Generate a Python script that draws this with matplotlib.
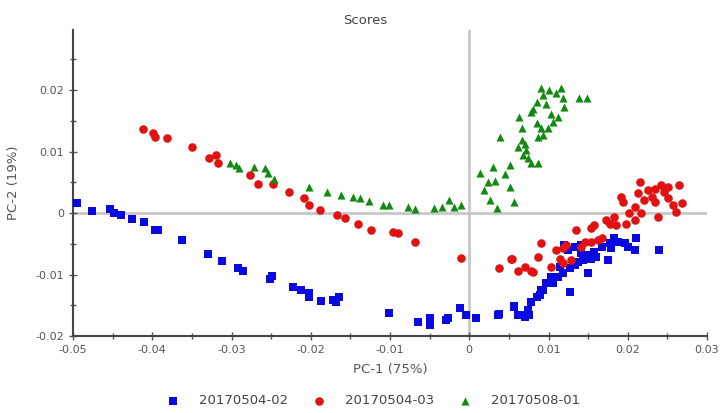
import numpy as np
import matplotlib
matplotlib.use('Agg')
from matplotlib import pyplot as plt
from matplotlib.ticker import MultipleLocator

plt.rcParams['font.family'] = ['DejaVu Sans']

# 20170504-02 (blue squares)
blue_x = [-0.0495, -0.0476, -0.0453, -0.0448, -0.0439, -0.0425, -0.0410, -0.0396, -0.0393,
          -0.0363, -0.0330, -0.0312, -0.0292, -0.0286, -0.0251, -0.0249, -0.0223, -0.0212,
          -0.0202, -0.0202, -0.0187, -0.0172, -0.0164, -0.0168,
          -0.0101, -0.0065, -0.0050, -0.0049, -0.0029, -0.0027, -0.0012, -0.0004, 0.0009,
          0.0036, 0.0056, 0.0061, 0.0070, 0.0074, 0.0078, 0.0085, 0.0091, 0.0097,
          0.0038, 0.0057, 0.0066, 0.0076, 0.0093, 0.0106, 0.0112, 0.0118, 0.0127, 0.0127,
          0.0133, 0.0137, 0.0143, 0.0150, 0.0141, 0.0150, 0.0120, 0.0125, 0.0133, 0.0141,
          0.0158, 0.0160, 0.0167, 0.0175, 0.0177, 0.0183, 0.0188, 0.0196, 0.0200, 0.0209,
          0.0211, 0.0240, 0.0179, 0.0154, 0.0114, 0.0103, 0.0089]
blue_y = [0.0016, 0.0004, 0.0007, 0.0000, -0.0003, -0.0010, -0.0015, -0.0027, -0.0028,
          -0.0043, -0.0066, -0.0078, -0.0090, -0.0095, -0.0108, -0.0102, -0.0120, -0.0125,
          -0.0130, -0.0136, -0.0143, -0.0141, -0.0137, -0.0144,
          -0.0163, -0.0177, -0.0170, -0.0182, -0.0174, -0.0170, -0.0155, -0.0166, -0.0170,
          -0.0166, -0.0151, -0.0166, -0.0169, -0.0158, -0.0144, -0.0136, -0.0125, -0.0114,
          -0.0164, -0.0152, -0.0166, -0.0166, -0.0125, -0.0114, -0.0104, -0.0098, -0.0128, -0.0090,
          -0.0085, -0.0079, -0.0076, -0.0098, -0.0065, -0.0068, -0.0052, -0.0060, -0.0055, -0.0052,
          -0.0063, -0.0071, -0.0055, -0.0076, -0.0049, -0.0041, -0.0047, -0.0049, -0.0055, -0.0060,
          -0.0041, -0.0060, -0.0057, -0.0074, -0.0087, -0.0104, -0.0133]

# 20170504-03 (red circles)
red_x = [-0.0412, -0.0399, -0.0397, -0.0382, -0.0350, -0.0329, -0.0319, -0.0317, -0.0277,
         -0.0267, -0.0248, -0.0227, -0.0208, -0.0202, -0.0188, -0.0167, -0.0157, -0.0140,
         -0.0124, -0.0096, -0.0090, -0.0069, -0.0010,
         0.0038, 0.0054, 0.0061, 0.0070, 0.0080, 0.0087, 0.0090,
         0.0053, 0.0078, 0.0103, 0.0110, 0.0114, 0.0118, 0.0122, 0.0129, 0.0135, 0.0141,
         0.0146, 0.0154, 0.0158, 0.0162, 0.0168, 0.0173, 0.0177, 0.0183, 0.0192, 0.0194,
         0.0198, 0.0202, 0.0209, 0.0213, 0.0215, 0.0221, 0.0225, 0.0230, 0.0234, 0.0238,
         0.0242, 0.0246, 0.0251, 0.0257, 0.0261, 0.0265, 0.0268, 0.0251, 0.0234, 0.0217,
         0.0209, 0.0185, 0.0154, 0.0118]
red_y = [0.0137, 0.0131, 0.0124, 0.0122, 0.0107, 0.0090, 0.0095, 0.0081, 0.0062,
         0.0048, 0.0048, 0.0034, 0.0025, 0.0014, 0.0005, -0.0003, -0.0008, -0.0017,
         -0.0028, -0.0030, -0.0033, -0.0047, -0.0073,
         -0.0090, -0.0075, -0.0095, -0.0087, -0.0096, -0.0071, -0.0048,
         -0.0074, -0.0095, -0.0087, -0.0060, -0.0074, -0.0082, -0.0052, -0.0076, -0.0028, -0.0055,
         -0.0047, -0.0025, -0.0020, -0.0044, -0.0041, -0.0011, -0.0017, -0.0006, 0.0027, 0.0018,
         -0.0017, 0.0000, 0.0010, 0.0032, 0.0051, 0.0021, 0.0037, 0.0027, 0.0018, -0.0006,
         0.0046, 0.0035, 0.0024, 0.0013, 0.0002, 0.0046, 0.0016, 0.0043, 0.0040, 0.0000,
         -0.0011, -0.0020, -0.0047, -0.0057]

# 20170508-01 (green triangles)
green_x = [-0.0302, -0.0294, -0.0290, -0.0271, -0.0258, -0.0254, -0.0246, -0.0202, -0.0180,
           -0.0162, -0.0147, -0.0138, -0.0126, -0.0109, -0.0101, -0.0077, -0.0069, -0.0044,
           -0.0035, -0.0025, -0.0019, -0.0010,
           0.0013, 0.0019, 0.0026, 0.0030, 0.0032, 0.0035, 0.0039, 0.0045, 0.0051, 0.0051,
           0.0057, 0.0061, 0.0066, 0.0063, 0.0066, 0.0068, 0.0070, 0.0072, 0.0074, 0.0078,
           0.0080, 0.0085, 0.0087, 0.0085, 0.0091, 0.0093, 0.0093, 0.0097, 0.0099, 0.0101,
           0.0103, 0.0106, 0.0110, 0.0112, 0.0116, 0.0118, 0.0120, 0.0091, 0.0078, 0.0139,
           0.0148, 0.0087, 0.0024]
green_y = [0.0081, 0.0078, 0.0073, 0.0075, 0.0073, 0.0065, 0.0056, 0.0043, 0.0035,
           0.0029, 0.0027, 0.0024, 0.0020, 0.0014, 0.0014, 0.0010, 0.0006, 0.0008,
           0.0010, 0.0021, 0.0010, 0.0014,
           0.0066, 0.0037, 0.0021, 0.0075, 0.0052, 0.0008, 0.0124, 0.0063, 0.0079, 0.0043,
           0.0018, 0.0108, 0.0138, 0.0157, 0.0119, 0.0094, 0.0113, 0.0103, 0.0089, 0.0081,
           0.0170, 0.0146, 0.0081, 0.0181, 0.0203, 0.0127, 0.0192, 0.0178, 0.0138, 0.0200,
           0.0162, 0.0149, 0.0195, 0.0157, 0.0203, 0.0187, 0.0173, 0.0138, 0.0165, 0.0187,
           0.0188, 0.0124, 0.0051]

labels = ['20170504-02', '20170504-03', '20170508-01']
x_ticks = [-0.05, -0.04, -0.03, -0.02, -0.01, 0, 0.01, 0.02, 0.03]
x_ticklabels = ['-0.05', '-0.04', '-0.03', '-0.02', '-0.01', '0', '0.01', '0.02', '0.03']
y_ticks = [-0.02, -0.01, 0, 0.01, 0.02]
y_ticklabels = ['-0.02', '-0.01', '0', '0.01', '0.02']

fig = plt.figure(figsize=(7.23, 4.13), dpi=100)
ax = fig.add_axes([73/723, 77/413, 634/723, 306/413])

# nollinjer
ax.axhline(0, color='#c8c8c8', lw=2, zorder=1)
ax.axvline(0, color='#c8c8c8', lw=2, zorder=1)

ax.scatter(blue_x, blue_y, marker='s', s=32, color='#0a0ae0', label=labels[0], zorder=3, linewidths=0)
ax.scatter(red_x, red_y, marker='o', s=38, color='#e01212', label=labels[1], zorder=3, linewidths=0)
ax.scatter(green_x, green_y, marker='^', s=34, color='#128a12', label=labels[2], zorder=3, linewidths=0)

ax.set_xlim(-0.05, 0.03)
ax.set_ylim(-0.02, 0.0298)
ax.set_xticks(x_ticks)
ax.set_xticklabels(x_ticklabels)
ax.set_yticks(y_ticks)
ax.set_yticklabels(y_ticklabels)
ax.xaxis.set_minor_locator(MultipleLocator(0.005))
ax.yaxis.set_minor_locator(MultipleLocator(0.005))
ax.tick_params(which='both', direction='inout', colors='#555555', labelcolor='#555555',
               labelsize=8, width=1)
ax.tick_params(which='major', length=6)
ax.tick_params(which='minor', length=4)

for s in ['top', 'right']:
    ax.spines[s].set_visible(False)
for s in ['left', 'bottom']:
    ax.spines[s].set_color('#444444')
    ax.spines[s].set_linewidth(1.5)

ax.set_xlabel('PC-1 (75%)', fontsize=9.5, color='#555555', labelpad=6)
ax.set_ylabel('PC-2 (19%)', fontsize=9.5, color='#555555')
ax.yaxis.set_label_coords(-0.083, 0.5)
fig.text(365/723, 1 - 20/413, 'Scores', ha='center', va='center', fontsize=9.5, color='#444444')

fig.legend(loc='center', bbox_to_anchor=(370/723, 1 - 401/413), ncol=3, frameon=False,
           fontsize=9.5, handletextpad=1.0, columnspacing=1.3, markerscale=1.0,
           labelcolor='#444444')

fig.savefig('out.png', dpi=100)
